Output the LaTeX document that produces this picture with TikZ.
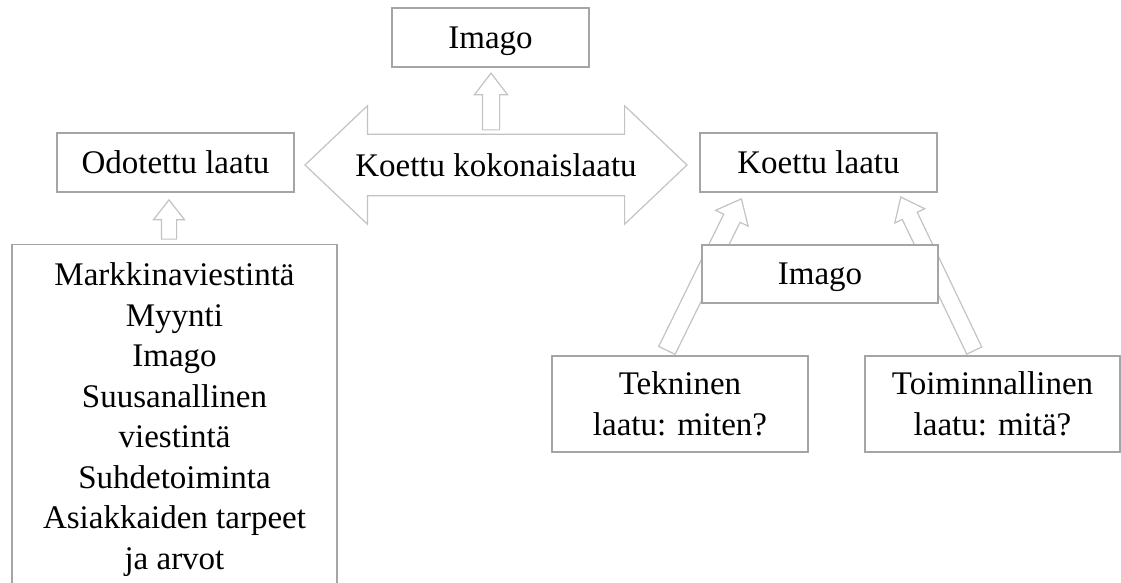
\documentclass[tikz,border=0pt]{standalone}
\usepackage{fontspec}
\setmainfont{Liberation Serif}
\usetikzlibrary{shapes.arrows,calc}

\definecolor{laatikkoharmaa}{RGB}{165,165,165}
\definecolor{nuoliharmaa}{RGB}{195,195,195}

\tikzset{
    laatikko/.style={draw=laatikkoharmaa, line width=1.5pt, fill=white,
        align=center, inner sep=0pt},
    yksirivi/.style={laatikko, text height=22pt, text depth=0pt},
    lohkonuoli/.style={single arrow, draw=nuoliharmaa, line width=1.2pt,
        fill=white, inner xsep=0pt, single arrow tip angle=76}
}

% Block arrow from point #3 to tip #4, named #2.
\newcommand{\nuoli}[4][]{%
    \path let \p1 = ($(#4)-(#3)$), \n1 = {veclen(\x1,\y1)},
        \n2 = {atan2(\y1,\x1)} in
        node[lohkonuoli, #1, minimum height=\n1, rotate=\n2] (#2)
            at ($(#3)!0.5!(#4)$) {};%
}

\begin{document}
\begin{tikzpicture}[%
        x = 1pt,
        y = 1pt,
        font = \fontsize{33}{40.5}\selectfont
    ]

    \clip (0,0) rectangle (1121,583);

    % Boxes.
    \node[yksirivi, minimum width=197, minimum height=59] (imagoYla)
        at (490.5,545.5) {Imago};
    \node[yksirivi, minimum width=237, minimum height=59] (odotettu)
        at (175.5,420.5) {Odotettu laatu};
    \node[yksirivi, minimum width=237, minimum height=59] (koettu)
        at (818.5,420.5) {Koettu laatu};
    \node[laatikko, minimum width=256, minimum height=96] (tekninen)
        at (680,179) {Tekninen\\laatu: miten?};
    \node[laatikko, minimum width=255, minimum height=96] (toiminnallinen)
        at (992.5,179) {Toiminnallinen\\laatu: mitä?};
    \node[laatikko, minimum width=325, anchor=north, inner ysep=18] (odotukset)
        at (174.5,339) {Markkinaviestintä\\Myynti\\Imago\\Suusanallinen\\viestintä\\%
        Suhdetoiminta\\Asiakkaiden tarpeet\\ja arvot};

    % Double arrow in the middle.
    \node[%
        double arrow,
        draw = nuoliharmaa,
        line width = 1.2pt,
        fill = white,
        minimum width = 116,
        minimum height = 382,
        double arrow head extend = 28.5,
        double arrow tip angle = 87,
        inner xsep = 0pt,
        inner ysep = 18.5pt
    ] (kokonais) at (496,418) {Koettu kokonaislaatu};

    % Ends of the block arrows.
    \coordinate (ylaAlku) at ($(kokonais.center)+(-5,29.5)$);
    \coordinate (ylaKarki) at ($(imagoYla.south)+(0.5,-11)$);
    \coordinate (odAlku) at ([xshift=-5.5]odotukset.north);
    \coordinate (odKarki) at ([xshift=-6.5,yshift=-12]odotettu.south);
    \coordinate (tekAlku) at ([xshift=-15.5]tekninen.north);
    \coordinate (tekKarki) at ([xshift=-79.5,yshift=-11]koettu.south);
    \coordinate (toiAlku) at ([xshift=-16]toiminnallinen.north);
    \coordinate (toiKarki) at ([xshift=84.5,yshift=-9]koettu.south);

    % Block arrows.
    \nuoli[inner ysep=8pt, single arrow head extend=8,
        single arrow tip angle=75]{ylaNuoli}{ylaAlku}{ylaKarki}
    \nuoli[inner ysep=7pt, single arrow head extend=8]{odNuoli}{odAlku}{odKarki}
    \nuoli[inner ysep=8.5pt, single arrow head extend=9,
        single arrow tip angle=80]{tekNuoli}{tekAlku}{tekKarki}
    \nuoli[inner ysep=7.7pt, single arrow head extend=8.3,
        single arrow tip angle=77]{toiNuoli}{toiAlku}{toiKarki}

    % Image box on top of the slanted arrows.
    \node[yksirivi, minimum width=236, minimum height=58] (imagoAla)
        at (820,309) {Imago};
\end{tikzpicture}
\end{document}
